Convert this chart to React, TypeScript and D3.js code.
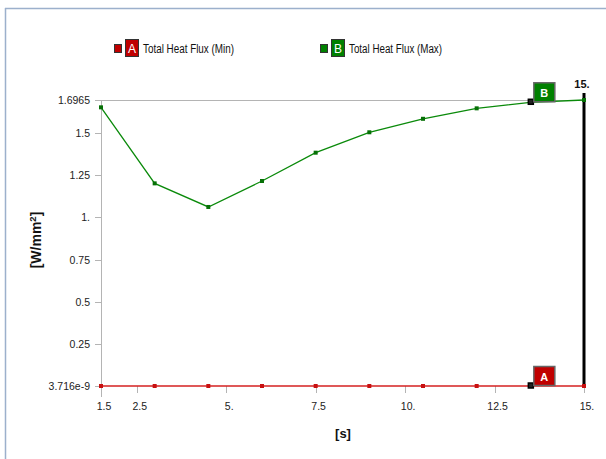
import React from "react";
import * as d3 from "d3";

const times = [1.5, 3, 4.5, 6, 7.5, 9, 10.5, 12, 13.5, 15];
const maxFlux = [1.653, 1.202, 1.062, 1.216, 1.384, 1.505, 1.585, 1.647, 1.683, 1.6965];
const minFlux = [3.716e-9, 3.716e-9, 3.716e-9, 3.716e-9, 3.716e-9, 3.716e-9, 3.716e-9, 3.716e-9, 3.716e-9, 3.716e-9];
const yTickValues = [3.716e-9, 0.25, 0.5, 0.75, 1, 1.25, 1.5, 1.6965];
const yTickLabels = ["3.716e-9", "0.25", "0.5", "0.75", "1.", "1.25", "1.5", "1.6965"];
const xTickValues = [1.5, 2.5, 5, 7.5, 10, 12.5, 15];
const xTickLabels = ["1.5", "2.5", "5.", "7.5", "10.", "12.5", "15."];
const seriesNames = ["Total Heat Flux (Min)", "Total Heat Flux (Max)"];
const seriesTags = ["A", "B"];
const probeTime = 13.5;
const currentTime = 15;

const FONT = "'Liberation Sans', Arial, sans-serif";

export default function App() {
  const x = d3.scaleLinear().domain([1.5, 15]).range([101, 584]);
  const y = d3.scaleLinear().domain([3.716e-9, 1.6965]).range([386, 100]);
  const line = d3
    .line<number>()
    .x((_, i) => x(times[i]))
    .y((d) => y(d));

  const red = "#d42020";
  const green = "#0a8a0a";
  const probeIdx = times.indexOf(probeTime);

  const legend = [
    { color: "#c00000", x: 114, textW: 91 },
    { color: "#008000", x: 320, textW: 93 },
  ];

  return (
    <svg
      width={606}
      height={459}
      style={{ position: "absolute", left: 0, top: 0, background: "#fff" }}
      fontFamily={FONT}
    >
      <rect x={0} y={0} width={606} height={459} fill="#fff" />
      {/* frame */}
      <line x1={5.5} y1={8} x2={5.5} y2={459} stroke="#9cb0cc" strokeWidth={1.5} />
      <line x1={5} y1={8.5} x2={606} y2={8.5} stroke="#9cb0cc" strokeWidth={1.5} />

      {/* legend */}
      {legend.map((l, i) => (
        <g key={i}>
          <rect x={l.x + 0.5} y={44.5} width={7} height={8} fill={l.color} stroke="#333" strokeWidth={1} />
          <rect x={l.x + 11.5} y={39.5} width={13} height={17} fill={l.color} stroke="#333" strokeWidth={1} />
          <text x={l.x + 18} y={52.5} fontSize={12} fill="#fff" textAnchor="middle">
            {seriesTags[i]}
          </text>
          <text
            x={l.x + 29}
            y={53}
            fontSize={12}
            fill="#111"
            textLength={l.textW}
            lengthAdjust="spacingAndGlyphs"
          >
            {seriesNames[i]}
          </text>
        </g>
      ))}

      {/* top grid line */}
      <line x1={x(1.5)} y1={y(1.6965) + 0.5} x2={x(15)} y2={y(1.6965) + 0.5} stroke="#b4b4b4" strokeWidth={1} />
      {/* y axis */}
      <line x1={x(1.5) + 0.5} y1={y(1.6965)} x2={x(1.5) + 0.5} y2={y(3.716e-9) + 11} stroke="#b4b4b4" strokeWidth={1} />

      {/* y ticks */}
      {yTickValues.map((v, i) => (
        <g key={"y" + i}>
          <line x1={x(1.5) - 6} x2={x(1.5)} y1={Math.round(y(v)) + 0.5} y2={Math.round(y(v)) + 0.5} stroke="#b4b4b4" />
          <text x={x(1.5) - 11} y={y(v) + 4} fontSize={10.5} textAnchor="end" fill="#222">
            {yTickLabels[i]}
          </text>
        </g>
      ))}

      {/* x ticks */}
      {xTickValues.map((v, i) => (
        <g key={"x" + i}>
          <line x1={Math.round(x(v)) + 0.5} x2={Math.round(x(v)) + 0.5} y1={y(3.716e-9)} y2={y(3.716e-9) + 7} stroke="#b4b4b4" />
          <text x={x(v) + 3} y={y(3.716e-9) + 24} fontSize={10.5} textAnchor="middle" fill="#222">
            {xTickLabels[i]}
          </text>
        </g>
      ))}

      {/* axis titles */}
      <text
        transform={`translate(41,240) rotate(-90)`}
        fontSize={14}
        fontWeight="bold"
        textAnchor="middle"
        fill="#111"
      >
        [W/mm<tspan dy={-5} fontSize={9.5}>2</tspan>
        <tspan dy={5}>]</tspan>
      </text>
      <text x={343} y={438} fontSize={13} fontWeight="bold" textAnchor="middle" fill="#111">
        [s]
      </text>

      {/* current time marker */}
      <line x1={x(currentTime)} x2={x(currentTime)} y1={93} y2={y(3.716e-9)} stroke="#000" strokeWidth={3} />
      <text x={x(currentTime) - 2} y={88} fontSize={11} fontWeight="bold" textAnchor="middle" fill="#111">
        15.
      </text>

      {/* series lines */}
      <path d={line(minFlux) || ""} fill="none" stroke={red} strokeWidth={1.5} />
      <path d={line(maxFlux) || ""} fill="none" stroke={green} strokeWidth={1.3} />
      {times.map((t, i) => (
        <g key={"m" + i}>
          <rect x={x(t) - 2} y={y(minFlux[i]) - 2} width={4} height={4} fill="#c81010" />
          <rect x={x(t) - 2} y={y(maxFlux[i]) - 2} width={4} height={4} fill="#067006" />
        </g>
      ))}

      {/* probe labels */}
      {[
        { v: minFlux[probeIdx], fill: "#c00000", tag: "A" },
        { v: maxFlux[probeIdx], fill: "#008000", tag: "B" },
      ].map((p, i) => {
        const px = x(probeTime);
        const py = y(p.v);
        return (
          <g key={"p" + i}>
            <rect x={px - 2} y={py - 3} width={5} height={5} fill="#222" stroke="#000" strokeWidth={1.5} />
            <rect x={px + 3.5} y={py - 19.5} width={21} height={19} fill={p.fill} stroke="#666" strokeWidth={1.5} />
            <text x={px + 14} y={py - 5.5} fontSize={11} fontWeight="bold" fill="#fff" textAnchor="middle">
              {p.tag}
            </text>
          </g>
        );
      })}
    </svg>
  );
}
